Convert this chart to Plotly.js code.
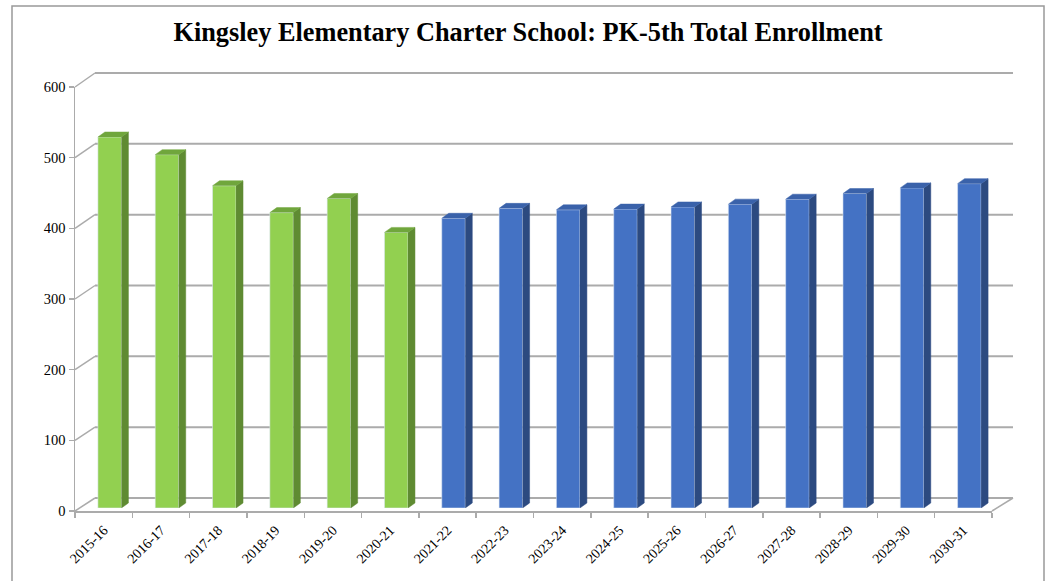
<!DOCTYPE html>
<html><head><meta charset="utf-8">
<script src="https://cdn.plot.ly/plotly-3.0.1.min.js"></script>
<style>html,body{margin:0;padding:0;background:#fff}#chart{width:1046px;height:581px}</style>
</head><body><div id="chart"></div>
<script>
// ---- data ----
const years = ['2015-16','2016-17','2017-18','2018-19','2019-20','2020-21','2021-22','2022-23','2023-24','2024-25','2025-26','2026-27','2027-28','2028-29','2029-30','2030-31'];
const actualEnrollment = [525, 500, 456, 418, 438, 390];
const projectedEnrollment = [410, 424, 422, 423, 426, 430, 437, 445, 453, 459];
const yTicks = [0, 100, 200, 300, 400, 500, 600];
const chartTitle = 'Kingsley Elementary Charter School: PK-5th Total Enrollment';

// ---- layout geometry ----
const W = 1046, H = 581;
const M = {l: 75, r: 33, t: 73, b: 70};
const PW = W - M.l - M.r, PH = H - M.t - M.b;
const px = v => (v - M.l) / PW;          // pixel -> paper x
const py = v => (H - M.b - v) / PH;      // pixel -> paper y
const frontX = [0, px(992)], frontY = [0, py(87)];
const backX = [px(95), 1], backY = [py(498), py(73)];
const barX = [px(81), px(998)], barY = [py(508), py(84)];
const yMax = 600;

const values = actualEnrollment.concat(projectedEnrollment);
const idx = values.map((_, i) => i);
const nActual = actualEnrollment.length;
const green = {front: '#92D050', side: '#5F8B32', cap: '#70A63C'};
const blue = {front: '#4472C4', side: '#2C4A80', cap: '#3A62AA'};
const barW = 0.41;
const dx = 7 / ((barX[1] - barX[0]) * PW / 16);
const dy = 5 / ((barY[1] - barY[0]) * PH / yMax);

function faces(list, kind) {
  const xs = [], ys = [];
  list.forEach(i => {
    const v = values[i], xl = i - barW / 2, xr = i + barW / 2;
    if (kind === 'side') {
      xs.push(xr, xr + dx, xr + dx, xr, null);
      ys.push(0, dy, v + dy, v, null);
    } else {
      xs.push(xl, xl + dx, xr + dx, xr, null);
      ys.push(v, v + dy, v + dy, v, null);
    }
  });
  return {x: xs, y: ys};
}
const gIdx = idx.filter(i => i < nActual), bIdx = idx.filter(i => i >= nActual);

const traces = [
  {type: 'scatter', x: years, y: years.map(() => 0), xaxis: 'x', yaxis: 'y', mode: 'markers',
   marker: {opacity: 0}, hoverinfo: 'skip', showlegend: false},
  {type: 'bar', x: idx, y: values, xaxis: 'x3', yaxis: 'y3', width: barW,
   marker: {color: idx.map(i => i < nActual ? green.front : blue.front),
            line: {color: 'rgba(220,230,245,0.7)', width: 0.8}},
   hoverinfo: 'skip', showlegend: false}
];
[[gIdx, green], [bIdx, blue]].forEach(([list, col]) => {
  ['side', 'cap'].forEach(kind => {
    const f = faces(list, kind);
    traces.push({type: 'scatter', x: f.x, y: f.y, xaxis: 'x3', yaxis: 'y3', mode: 'lines',
      fill: 'toself', fillcolor: col[kind], line: {width: 0.5, color: col[kind]},
      hoverinfo: 'skip', showlegend: false});
  });
});

const gridCol = '#ababab';
const shapes = [];
yTicks.forEach(t => {
  const yf = frontY[0] + t / yMax * (frontY[1] - frontY[0]);
  const yb = backY[0] + t / yMax * (backY[1] - backY[0]);
  // side wall diagonal
  shapes.push({type: 'line', xref: 'paper', yref: 'paper', x0: frontX[0], y0: yf, x1: backX[0], y1: yb,
    line: {color: gridCol, width: 1.5}, layer: 'below'});
  // back wall gridline
  shapes.push({type: 'line', xref: 'paper', yref: 'paper', x0: backX[0], y0: yb, x1: backX[1], y1: yb,
    line: {color: gridCol, width: 2}, layer: 'below'});
});
shapes.push({type: 'line', xref: 'paper', yref: 'paper', x0: frontX[1], y0: frontY[0], x1: backX[1], y1: backY[0],
  line: {color: gridCol, width: 1.5}, layer: 'below'});
shapes.push({type: 'rect', xref: 'paper', yref: 'paper', x0: px(12), y0: py(6), x1: px(1044), y1: py(600),
  line: {color: '#999999', width: 1.5}, layer: 'below'});

const serif = 'Liberation Serif, DejaVu Serif, serif';
const layout = {
  width: W, height: H, margin: M, paper_bgcolor: '#fff', plot_bgcolor: 'rgba(0,0,0,0)',
  showlegend: false,
  title: {text: '<b>' + chartTitle + '</b>', x: 528 / W, xanchor: 'center', xref: 'container', y: 1 - 32 / H, yref: 'container',
          yanchor: 'middle', font: {family: serif, size: 26.3, color: '#000'}},
  xaxis: {type: 'category', categoryorder: 'array', categoryarray: years, range: [-0.5, years.length - 0.5],
          domain: frontX, anchor: 'y', tickson: 'boundaries', ticks: 'outside', ticklen: 5, tickcolor: gridCol,
          tickwidth: 1.5, showline: true, linecolor: gridCol, linewidth: 1.5, tickangle: -45,
          ticklabelstandoff: 4,
          tickfont: {family: serif, size: 14, color: '#000'}, showgrid: false, zeroline: false},
  yaxis: {domain: frontY, range: [0, yMax], anchor: 'x', tickmode: 'array', tickvals: yTicks, ticks: 'outside',
          ticklen: 5, tickcolor: gridCol, tickwidth: 1.5, showline: true, linecolor: gridCol, linewidth: 1.5,
          showgrid: false, zeroline: false, tickfont: {family: serif, size: 14.5, color: '#000'}},
  xaxis3: {domain: barX, range: [-0.5, years.length - 0.5], anchor: 'y3', visible: false},
  yaxis3: {domain: barY, range: [0, yMax], anchor: 'x3', visible: false},
  shapes: shapes
};
Plotly.newPlot('chart', traces, layout, {displayModeBar: false, staticPlot: true});
</script></body></html>
